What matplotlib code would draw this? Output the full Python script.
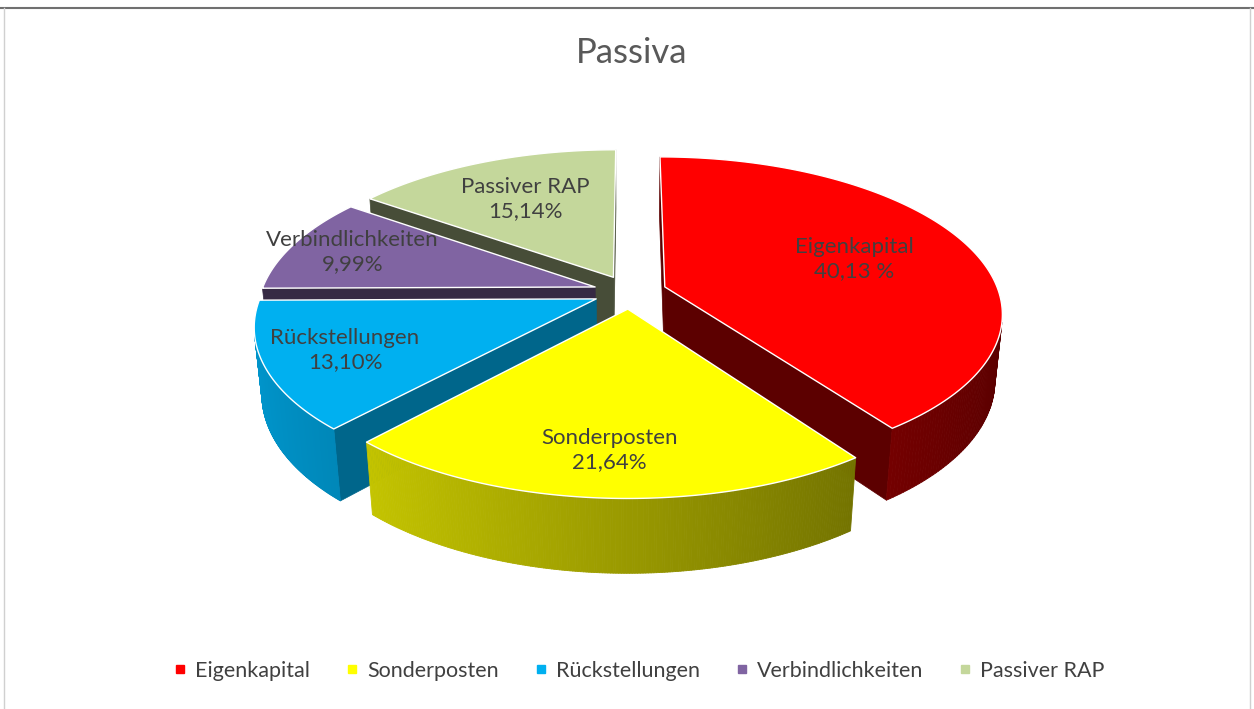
import numpy as np
import matplotlib
matplotlib.use('Agg')
import matplotlib.pyplot as plt
import matplotlib.colors as mcolors
from matplotlib.patches import Polygon
from matplotlib.collections import PolyCollection
from matplotlib.lines import Line2D

# data
labels = ['Eigenkapital', 'Sonderposten', 'Rückstellungen', 'Verbindlichkeiten', 'Passiver RAP']
values = [40.13, 21.64, 13.10, 9.99, 15.14]
pct_text = ['40,13 %', '21,64%', '13,10%', '9,99%', '15,14%']
colors = ['#FF0000', '#FFFF00', '#00B0F0', '#8064A2', '#C4D79B']

plt.rcParams['font.family'] = ['Lato', 'DejaVu Sans']

W, H = 1254, 709
fig = plt.figure(figsize=(W / 100, H / 100), dpi=100)
ax = fig.add_axes([0, 0, 1, 1])
ax.set_xlim(0, W)
ax.set_ylim(H, 0)
ax.axis('off')

# layout of the 3d pie (pixels), simple perspective
cx, cy = 630, 292
A, B, Dp = 334, 152.6, 67
k, kz = 0.162, 0.02
explode = 0.11
label_r = [0.62, 0.78, 0.77, 0.8, 0.65]
wall_f = [0.36, 0.4, 0.58, 0.42, 0.36]


def proj(X, Y, Z=0.0):
    X = np.asarray(X, float)
    Y = np.asarray(Y, float)
    s = 1.0 / (1 + k * Y + kz * Z)
    return cx + A * X * s, cy + (-B * Y + Dp * Z) * s


def area(xs, ys):
    return np.sum(xs * np.roll(ys, -1) - np.roll(xs, -1) * ys) / 2


def shade(c, f):
    r, g, b = mcolors.to_rgb(c)
    return (min(r * f, 1), min(g * f, 1), min(b * f, 1))


def radial(ox, oy, ang, n=30):
    t = np.linspace(0, 1, n)
    return ox + t * np.cos(ang), oy + t * np.sin(ang)


total = sum(values)
slices = []
a = 90.0
for i, v in enumerate(values):
    span = 360 * v / total
    s, e = np.radians(a), np.radians(a - span)
    m = (s + e) / 2
    slices.append(dict(i=i, s=s, e=e, m=m,
                       ox=explode * np.cos(m), oy=explode * np.sin(m)))
    a -= span

# back to front
order = sorted(slices, key=lambda d: -np.sin(d['m']))

for sl in order:
    i, s, e, m, ox, oy = sl['i'], sl['s'], sl['e'], sl['m'], sl['ox'], sl['oy']
    col = colors[i]

    # radial walls: start wall visible if area < 0, end wall if area > 0
    for ang, sign in ((s, -1), (e, 1)):
        X, Y = radial(ox, oy, ang)
        x0, y0 = proj(X, Y, 0)
        x1, y1 = proj(X, Y, 1)
        xs = np.r_[x0, x1[::-1]]
        ys = np.r_[y0, y1[::-1]]
        if area(xs, ys) * sign <= 0:
            continue
        ax.add_patch(Polygon(np.column_stack([xs, ys]), closed=True,
                             fc=shade(col, wall_f[i]), ec=shade(col, wall_f[i]), lw=0.5))

    # outer wall, shaded along the arc
    t = np.linspace(s, e, 200)
    quads, fcs = [], []
    for j in range(len(t) - 1):
        tt = [t[j], t[j + 1]]
        X = ox + np.cos(tt)
        Y = oy + np.sin(tt)
        x0, y0 = proj(X, Y, 0)
        x1, y1 = proj(X, Y, 1)
        qx = np.array([x0[0], x0[1], x1[1], x1[0]])
        qy = np.array([y0[0], y0[1], y1[1], y1[0]])
        if area(qx, qy) >= 0:
            continue
        tm = (t[j] + t[j + 1]) / 2
        quads.append(np.column_stack([qx, qy]))
        fcs.append(shade(col, 0.6 - 0.25 * np.cos(tm)))
    if quads:
        ax.add_collection(PolyCollection(quads, facecolors=fcs, edgecolors=fcs, linewidths=0.6))

    # top face
    X1, Y1 = radial(ox, oy, s)
    X3, Y3 = radial(ox, oy, e)
    X = np.r_[X1, ox + np.cos(t), X3[::-1]]
    Y = np.r_[Y1, oy + np.sin(t), Y3[::-1]]
    px, py = proj(X, Y, 0)
    ax.add_patch(Polygon(np.column_stack([px, py]), closed=True, fc=col,
                         ec='white', lw=1.0, joinstyle='round'))

    # label
    lx, ly = proj(ox + label_r[i] * np.cos(m), oy + label_r[i] * np.sin(m), 0)
    ax.text(float(lx), float(ly), labels[i] + '\n' + pct_text[i], ha='center', va='center',
            fontsize=16, color='#404040', linespacing=1.27)

fig.text(632 / W, 1 - 53 / H, 'Passiva', ha='center', va='center', fontsize=25, color='#595959')

handles = [Line2D([], [], marker='s', ls='', color=c, markersize=6) for c in colors]
fig.legend(handles, labels, loc='center', bbox_to_anchor=(638 / W, 1 - 671 / H), ncol=5,
           frameon=False, fontsize=15.5, handletextpad=0.3, columnspacing=1.55,
           handlelength=0.8, labelcolor='#404040')

# chart frame
ax.plot([0, W], [8, 8], color='#707070', lw=1.5)
ax.plot([4, 4], [8, H], color='#d0d0d0', lw=1)
ax.plot([W - 4, W - 4], [8, H], color='#d0d0d0', lw=1)

fig.savefig('out.png', dpi=100)
